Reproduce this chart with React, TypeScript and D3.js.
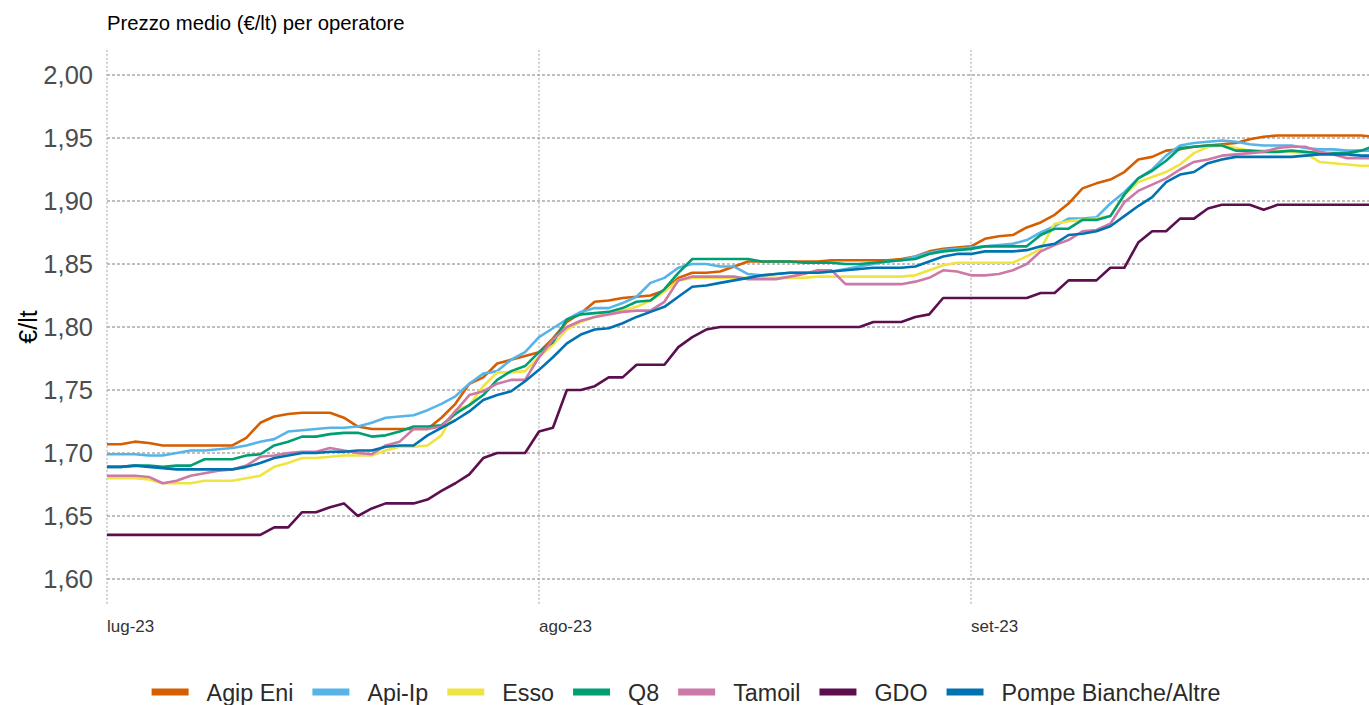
import React, { useEffect, useRef } from 'react';
import * as d3 from 'd3';

// daily average prices, 1 Jul 2023 .. 30 Sep 2023 (one value per day)
const startDate = new Date(2023, 6, 1);

const agipEni = [
  1.707, 1.707, 1.709, 1.708, 1.706, 1.706, 1.706, 1.706, 1.706, 1.706,
  1.712, 1.724, 1.729, 1.731, 1.732, 1.732, 1.732, 1.728, 1.721, 1.719,
  1.719, 1.719, 1.719, 1.719, 1.728, 1.739, 1.755, 1.760, 1.771, 1.774,
  1.777, 1.780, 1.791, 1.804, 1.811, 1.820, 1.821, 1.823, 1.824, 1.825,
  1.829, 1.839, 1.843, 1.843, 1.844, 1.848, 1.852, 1.852, 1.852, 1.852,
  1.852, 1.852, 1.853, 1.853, 1.853, 1.853, 1.853, 1.854, 1.856, 1.860,
  1.862, 1.863, 1.864, 1.870, 1.872, 1.873, 1.879, 1.883, 1.889, 1.898,
  1.910, 1.914, 1.917, 1.923, 1.933, 1.935, 1.940, 1.941, 1.943, 1.944,
  1.945, 1.946, 1.949, 1.951, 1.952, 1.952, 1.952, 1.952, 1.952, 1.952,
  1.952, 1.951,
];

const apiIp = [
  1.699, 1.699, 1.699, 1.698, 1.698, 1.700, 1.702, 1.702, 1.703, 1.704,
  1.706, 1.709, 1.711, 1.717, 1.718, 1.719, 1.720, 1.720, 1.721, 1.724,
  1.728, 1.729, 1.730, 1.734, 1.739, 1.745, 1.755, 1.763, 1.765, 1.774,
  1.780, 1.792, 1.799, 1.806, 1.812, 1.815, 1.815, 1.819, 1.824, 1.835,
  1.839, 1.847, 1.850, 1.850, 1.848, 1.848, 1.842, 1.841, 1.842, 1.843,
  1.843, 1.843, 1.844, 1.846, 1.848, 1.850, 1.852, 1.853, 1.856, 1.859,
  1.861, 1.862, 1.863, 1.864, 1.865, 1.866, 1.869, 1.875, 1.880, 1.886,
  1.886, 1.887, 1.898, 1.907, 1.918, 1.925, 1.936, 1.944, 1.946, 1.947,
  1.948, 1.947, 1.945, 1.944, 1.944, 1.944, 1.942, 1.941, 1.941, 1.940,
  1.940, 1.940,
];

const esso = [
  1.680, 1.680, 1.680, 1.679, 1.676, 1.676, 1.676, 1.678, 1.678, 1.678,
  1.680, 1.682, 1.689, 1.692, 1.696, 1.696, 1.697, 1.698, 1.698, 1.698,
  1.702, 1.705, 1.705, 1.706, 1.714, 1.734, 1.738, 1.753, 1.764, 1.764,
  1.765, 1.776, 1.786, 1.798, 1.804, 1.808, 1.811, 1.813, 1.816, 1.821,
  1.828, 1.837, 1.839, 1.839, 1.839, 1.839, 1.839, 1.839, 1.839, 1.839,
  1.839, 1.840, 1.840, 1.840, 1.840, 1.840, 1.840, 1.840, 1.841, 1.845,
  1.849, 1.851, 1.851, 1.851, 1.851, 1.851, 1.856, 1.862, 1.882, 1.884,
  1.885, 1.886, 1.888, 1.905, 1.915, 1.919, 1.923, 1.929, 1.938, 1.943,
  1.944, 1.942, 1.940, 1.940, 1.940, 1.939, 1.938, 1.931, 1.930, 1.929,
  1.928, 1.928,
];

const q8 = [
  1.689, 1.689, 1.690, 1.690, 1.689, 1.690, 1.690, 1.695, 1.695, 1.695,
  1.698, 1.699, 1.706, 1.709, 1.713, 1.713, 1.715, 1.716, 1.716, 1.713,
  1.714, 1.717, 1.721, 1.721, 1.722, 1.731, 1.738, 1.746, 1.758, 1.765,
  1.769, 1.780, 1.788, 1.806, 1.810, 1.811, 1.812, 1.815, 1.820, 1.821,
  1.830, 1.843, 1.854, 1.854, 1.854, 1.854, 1.854, 1.852, 1.852, 1.852,
  1.851, 1.851, 1.851, 1.850, 1.850, 1.851, 1.852, 1.853, 1.854, 1.858,
  1.860, 1.861, 1.862, 1.864, 1.864, 1.864, 1.864, 1.873, 1.878, 1.878,
  1.885, 1.885, 1.888, 1.905, 1.918, 1.924, 1.932, 1.942, 1.943, 1.944,
  1.944, 1.940, 1.940, 1.939, 1.939, 1.940, 1.939, 1.938, 1.938, 1.938,
  1.940, 1.944,
];

const tamoil = [
  1.682, 1.682, 1.682, 1.681, 1.676, 1.678, 1.682, 1.684, 1.686, 1.687,
  1.690, 1.697, 1.698, 1.700, 1.701, 1.701, 1.704, 1.702, 1.700, 1.699,
  1.706, 1.709, 1.719, 1.719, 1.721, 1.733, 1.746, 1.749, 1.755, 1.758,
  1.758, 1.776, 1.790, 1.800, 1.805, 1.808, 1.810, 1.812, 1.813, 1.813,
  1.820, 1.837, 1.840, 1.840, 1.840, 1.840, 1.838, 1.838, 1.838, 1.840,
  1.842, 1.845, 1.845, 1.834, 1.834, 1.834, 1.834, 1.834, 1.836, 1.839,
  1.845, 1.844, 1.841, 1.841, 1.842, 1.845, 1.850, 1.860, 1.865, 1.869,
  1.876, 1.877, 1.882, 1.899, 1.908, 1.913, 1.918, 1.925, 1.931, 1.933,
  1.936, 1.937, 1.938, 1.939, 1.942, 1.943, 1.943, 1.939, 1.937, 1.934,
  1.934, 1.934,
];

const gdo = [
  1.635, 1.635, 1.635, 1.635, 1.635, 1.635, 1.635, 1.635, 1.635, 1.635,
  1.635, 1.635, 1.641, 1.641, 1.653, 1.653, 1.657, 1.660, 1.650, 1.656,
  1.660, 1.660, 1.660, 1.663, 1.670, 1.676, 1.683, 1.696, 1.700, 1.700,
  1.700, 1.717, 1.720, 1.750, 1.750, 1.753, 1.760, 1.760, 1.770, 1.770,
  1.770, 1.784, 1.792, 1.798, 1.800, 1.800, 1.800, 1.800, 1.800, 1.800,
  1.800, 1.800, 1.800, 1.800, 1.800, 1.804, 1.804, 1.804, 1.808, 1.810,
  1.823, 1.823, 1.823, 1.823, 1.823, 1.823, 1.823, 1.827, 1.827, 1.837,
  1.837, 1.837, 1.847, 1.847, 1.867, 1.876, 1.876, 1.886, 1.886, 1.894,
  1.897, 1.897, 1.897, 1.893, 1.897, 1.897, 1.897, 1.897, 1.897, 1.897,
  1.897, 1.897,
];

const pompeBianche = [
  1.689, 1.689, 1.690, 1.689, 1.688, 1.687, 1.687, 1.687, 1.687, 1.687,
  1.689, 1.692, 1.696, 1.698, 1.700, 1.700, 1.701, 1.701, 1.702, 1.702,
  1.705, 1.706, 1.706, 1.714, 1.720, 1.726, 1.733, 1.742, 1.746, 1.749,
  1.757, 1.766, 1.776, 1.787, 1.794, 1.798, 1.799, 1.803, 1.808, 1.812,
  1.816, 1.824, 1.832, 1.833, 1.835, 1.837, 1.839, 1.841, 1.842, 1.843,
  1.843, 1.843, 1.844, 1.845, 1.846, 1.847, 1.847, 1.847, 1.848, 1.852,
  1.856, 1.858, 1.858, 1.860, 1.860, 1.860, 1.861, 1.864, 1.866, 1.873,
  1.874, 1.876, 1.880, 1.888, 1.896, 1.903, 1.915, 1.921, 1.923, 1.930,
  1.933, 1.935, 1.935, 1.935, 1.935, 1.935, 1.936, 1.937, 1.937, 1.937,
  1.936, 1.936,
];

const seriesNames = ['Agip Eni', 'Api-Ip', 'Esso', 'Q8', 'Tamoil', 'GDO', 'Pompe Bianche/Altre'];
const seriesValues = [agipEni, apiIp, esso, q8, tamoil, gdo, pompeBianche];
const seriesColors = ['#D55E00', '#56B4E9', '#F0E442', '#009E73', '#CC79A7', '#5B0F4F', '#0072B2'];

const yTicks = [1.6, 1.65, 1.7, 1.75, 1.8, 1.85, 1.9, 1.95, 2.0];
const xTickDates = [new Date(2023, 6, 1), new Date(2023, 7, 1), new Date(2023, 8, 1)];
const xTickLabels = ['lug-23', 'ago-23', 'set-23'];

const title = 'Prezzo medio (€/lt) per operatore';
const yTitle = '€/lt';

const WIDTH = 1369;
const HEIGHT = 705;
const FONT = "'Liberation Sans', Arial, sans-serif";

const App: React.FC = () => {
  const svgRef = useRef<SVGSVGElement>(null);

  useEffect(() => {
    if (!svgRef.current) return;
    const svg = d3.select(svgRef.current);
    svg.selectAll('*').remove();

    const dayPx = 432 / 31;
    const endDate = d3.timeDay.offset(startDate, 91);
    const x = d3.scaleTime()
      .domain([startDate, endDate])
      .range([107, 107 + 91 * dayPx]);

    const y = d3.scaleLinear()
      .domain([1.58, 2.02])
      .range([604.2, 49.8]);

    const plotLeft = 107;
    const plotRight = WIDTH;
    const plotTop = y(2.02);
    const plotBottom = y(1.58);

    // horizontal grid
    svg.append('g')
      .selectAll('line')
      .data(yTicks)
      .enter()
      .append('line')
      .attr('x1', plotLeft)
      .attr('x2', plotRight)
      .attr('y1', d => y(d))
      .attr('y2', d => y(d))
      .attr('stroke', '#7f7f7f')
      .attr('stroke-width', 1)
      .attr('stroke-dasharray', '3,2');

    // vertical grid
    svg.append('g')
      .selectAll('line')
      .data(xTickDates)
      .enter()
      .append('line')
      .attr('x1', d => x(d))
      .attr('x2', d => x(d))
      .attr('y1', plotTop)
      .attr('y2', plotBottom)
      .attr('stroke', '#a0a0a0')
      .attr('stroke-width', 1)
      .attr('stroke-dasharray', '2,2');

    // y labels
    svg.append('g')
      .selectAll('text')
      .data(yTicks)
      .enter()
      .append('text')
      .attr('x', 93)
      .attr('y', d => y(d))
      .attr('dy', '0.36em')
      .attr('text-anchor', 'end')
      .attr('font-family', FONT)
      .attr('font-size', 25.5)
      .attr('fill', '#4d4d4d')
      .text(d => d3.format('.2f')(d).replace('.', ','));

    // x labels
    svg.append('g')
      .selectAll('text')
      .data(xTickDates)
      .enter()
      .append('text')
      .attr('x', d => x(d))
      .attr('y', 632)
      .attr('text-anchor', 'start')
      .attr('font-family', FONT)
      .attr('font-size', 17)
      .attr('fill', '#333')
      .text((d, i) => xTickLabels[i]);

    // title
    svg.append('text')
      .attr('x', 107)
      .attr('y', 30)
      .attr('font-family', FONT)
      .attr('font-size', 20.3)
      .attr('fill', '#000')
      .text(title);

    // y title
    svg.append('text')
      .attr('transform', 'translate(37, 327) rotate(-90)')
      .attr('text-anchor', 'middle')
      .attr('font-family', FONT)
      .attr('font-size', 25)
      .attr('fill', '#000')
      .text(yTitle);

    // lines
    const line = d3.line<number>()
      .x((d, i) => x(d3.timeDay.offset(startDate, i)))
      .y(d => y(d));

    svg.append('g')
      .selectAll('path')
      .data(seriesValues)
      .enter()
      .append('path')
      .attr('d', d => line(d))
      .attr('fill', 'none')
      .attr('stroke', (d, i) => seriesColors[i])
      .attr('stroke-width', 2.6)
      .attr('stroke-linejoin', 'round');

    // legend
    const legend = svg.append('g');
    const swatchW = 37;
    const gapText = 18;
    const gapItem = 19;
    const items = seriesNames.map((name, i) => {
      const g = legend.append('g');
      g.append('line')
        .attr('x1', 0)
        .attr('x2', swatchW)
        .attr('y1', 692)
        .attr('y2', 692)
        .attr('stroke', seriesColors[i])
        .attr('stroke-width', 7);
      const t = g.append('text')
        .attr('x', swatchW + gapText)
        .attr('y', 701)
        .attr('font-family', FONT)
        .attr('font-size', 23.3)
        .attr('fill', '#2a2a2a')
        .text(name);
      const w = (t.node() as SVGTextElement).getComputedTextLength();
      return { g, w: swatchW + gapText + w };
    });
    const total = d3.sum(items, d => d.w) + gapItem * (items.length - 1);
    let cx = 686 - total / 2;
    items.forEach(it => {
      it.g.attr('transform', `translate(${cx},0)`);
      cx += it.w + gapItem;
    });
  }, []);

  return (
    <svg
      ref={svgRef}
      width={WIDTH}
      height={HEIGHT}
      style={{ position: 'absolute', left: 0, top: 0, display: 'block', background: '#fff' }}
    />
  );
};

export default App;
